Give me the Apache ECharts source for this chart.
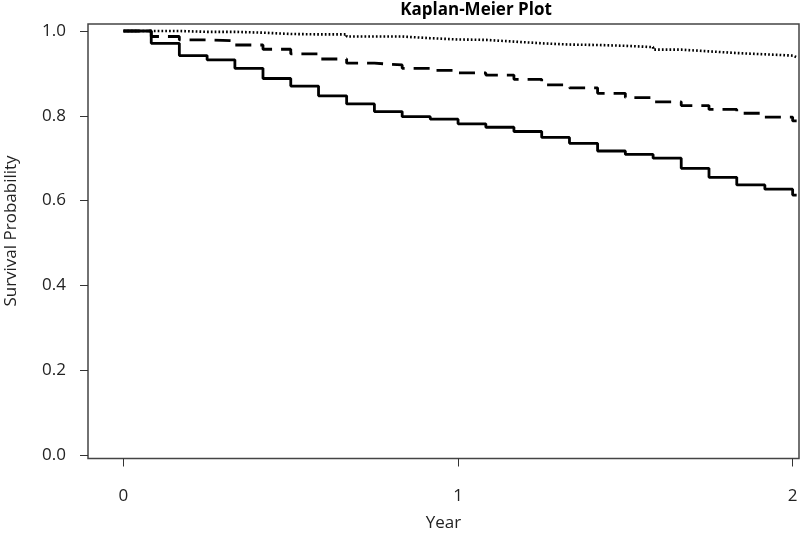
<!DOCTYPE html>
<html>
<head>
<meta charset="utf-8">
<script src="https://cdn.jsdelivr.net/npm/echarts@6/dist/echarts.min.js"></script>
<style>html,body{margin:0;padding:0;background:#fff}#c{width:800px;height:533px}</style>
</head>
<body>
<div id="c"></div>
<script>
// Time points (years) where each step begins; last entry is the end of follow-up
var timeYears = [0, 0.083, 0.167, 0.25, 0.333, 0.417, 0.5, 0.583, 0.667, 0.75, 0.833, 0.917,
                 1.0, 1.083, 1.167, 1.25, 1.333, 1.417, 1.5, 1.583, 1.667, 1.75, 1.833, 1.917, 2.0, 2.012];
// Survival probabilities held from each time point
var survivalSolid  = [1.0, 0.971, 0.942, 0.932, 0.912, 0.888, 0.870, 0.847, 0.828, 0.810, 0.798, 0.792,
                      0.781, 0.773, 0.763, 0.749, 0.735, 0.717, 0.709, 0.700, 0.676, 0.655, 0.637, 0.627, 0.613, 0.613];
var survivalDashed = [1.0, 0.987, 0.979, 0.977, 0.967, 0.957, 0.946, 0.934, 0.924, 0.920, 0.912, 0.907,
                      0.901, 0.896, 0.886, 0.873, 0.866, 0.853, 0.843, 0.833, 0.824, 0.815, 0.806, 0.797, 0.788, 0.788];
var survivalDotted = [1.0, 1.0, 0.998, 0.998, 0.996, 0.993, 0.992, 0.992, 0.987, 0.987, 0.983, 0.980,
                      0.979, 0.975, 0.971, 0.968, 0.967, 0.965, 0.962, 0.956, 0.952, 0.948, 0.945, 0.942, 0.938, 0.938];
var xTicks = [0, 1, 2];
var yTicks = [0, 0.2, 0.4, 0.6, 0.8, 1.0];
var titleText = 'Kaplan-Meier Plot';
var xName = 'Year';
var yName = 'Survival Probability';

function pairs(ys) { return timeYears.map(function (t, i) { return [t, ys[i]]; }); }

var FONT = '"Open Sans", "Noto Sans", sans-serif';
var chart = echarts.init(document.getElementById('c'), null, {renderer: 'canvas'});
chart.setOption({
  animation: false,
  backgroundColor: '#fff',
  title: {
    text: titleText, left: 471, top: -3, textAlign: 'center',
    textStyle: {fontFamily: FONT, fontSize: 17, fontWeight: 'bold', color: '#000'}
  },
  graphic: [{
    type: 'text', x: 11, y: 231, rotation: Math.PI / 2,
    style: {text: yName, fontFamily: FONT, fontSize: 17, fill: '#222', align: 'center', verticalAlign: 'middle'}
  }],
  grid: {left: 88, top: 24, width: 711, height: 434.5, show: true, borderColor: '#444', borderWidth: 1.5,
         backgroundColor: 'transparent', containLabel: false, outerBoundsMode: 'none'},
  xAxis: {
    type: 'value', min: -0.106, max: 2.019,
    name: xName, nameLocation: 'middle', nameGap: 56,
    nameTextStyle: {fontFamily: FONT, fontSize: 17, color: '#222'},
    axisLine: {show: false, onZero: false},
    splitLine: {show: false},
    axisTick: {show: true, inside: false, length: 8, customValues: xTicks, lineStyle: {color: '#333', width: 1}},
    axisLabel: {customValues: xTicks, margin: 29, fontFamily: FONT, fontSize: 17, color: '#222',
                formatter: function (v) { return String(v); }}
  },
  yAxis: {
    type: 'value', min: -0.00825, max: 1.0165,
    axisLine: {show: false, onZero: false},
    splitLine: {show: false},
    axisTick: {show: true, inside: false, length: 8, customValues: yTicks, lineStyle: {color: '#333', width: 1}},
    axisLabel: {customValues: yTicks, margin: 22, fontFamily: FONT, fontSize: 17, color: '#222',
                formatter: function (v) { return v.toFixed(1); }}
  },
  series: [
    {type: 'line', step: 'end', data: pairs(survivalDotted), symbol: 'none',
     lineStyle: {color: '#000', width: 2.6, type: [1.7, 2.1], cap: 'butt'}},
    {type: 'line', step: 'end', data: pairs(survivalDashed), symbol: 'none',
     lineStyle: {color: '#000', width: 2.8, type: [16, 9], cap: 'butt'}},
    {type: 'line', step: 'end', data: pairs(survivalSolid), symbol: 'none',
     lineStyle: {color: '#000', width: 2.8}}
  ]
});
</script>
</body>
</html>
